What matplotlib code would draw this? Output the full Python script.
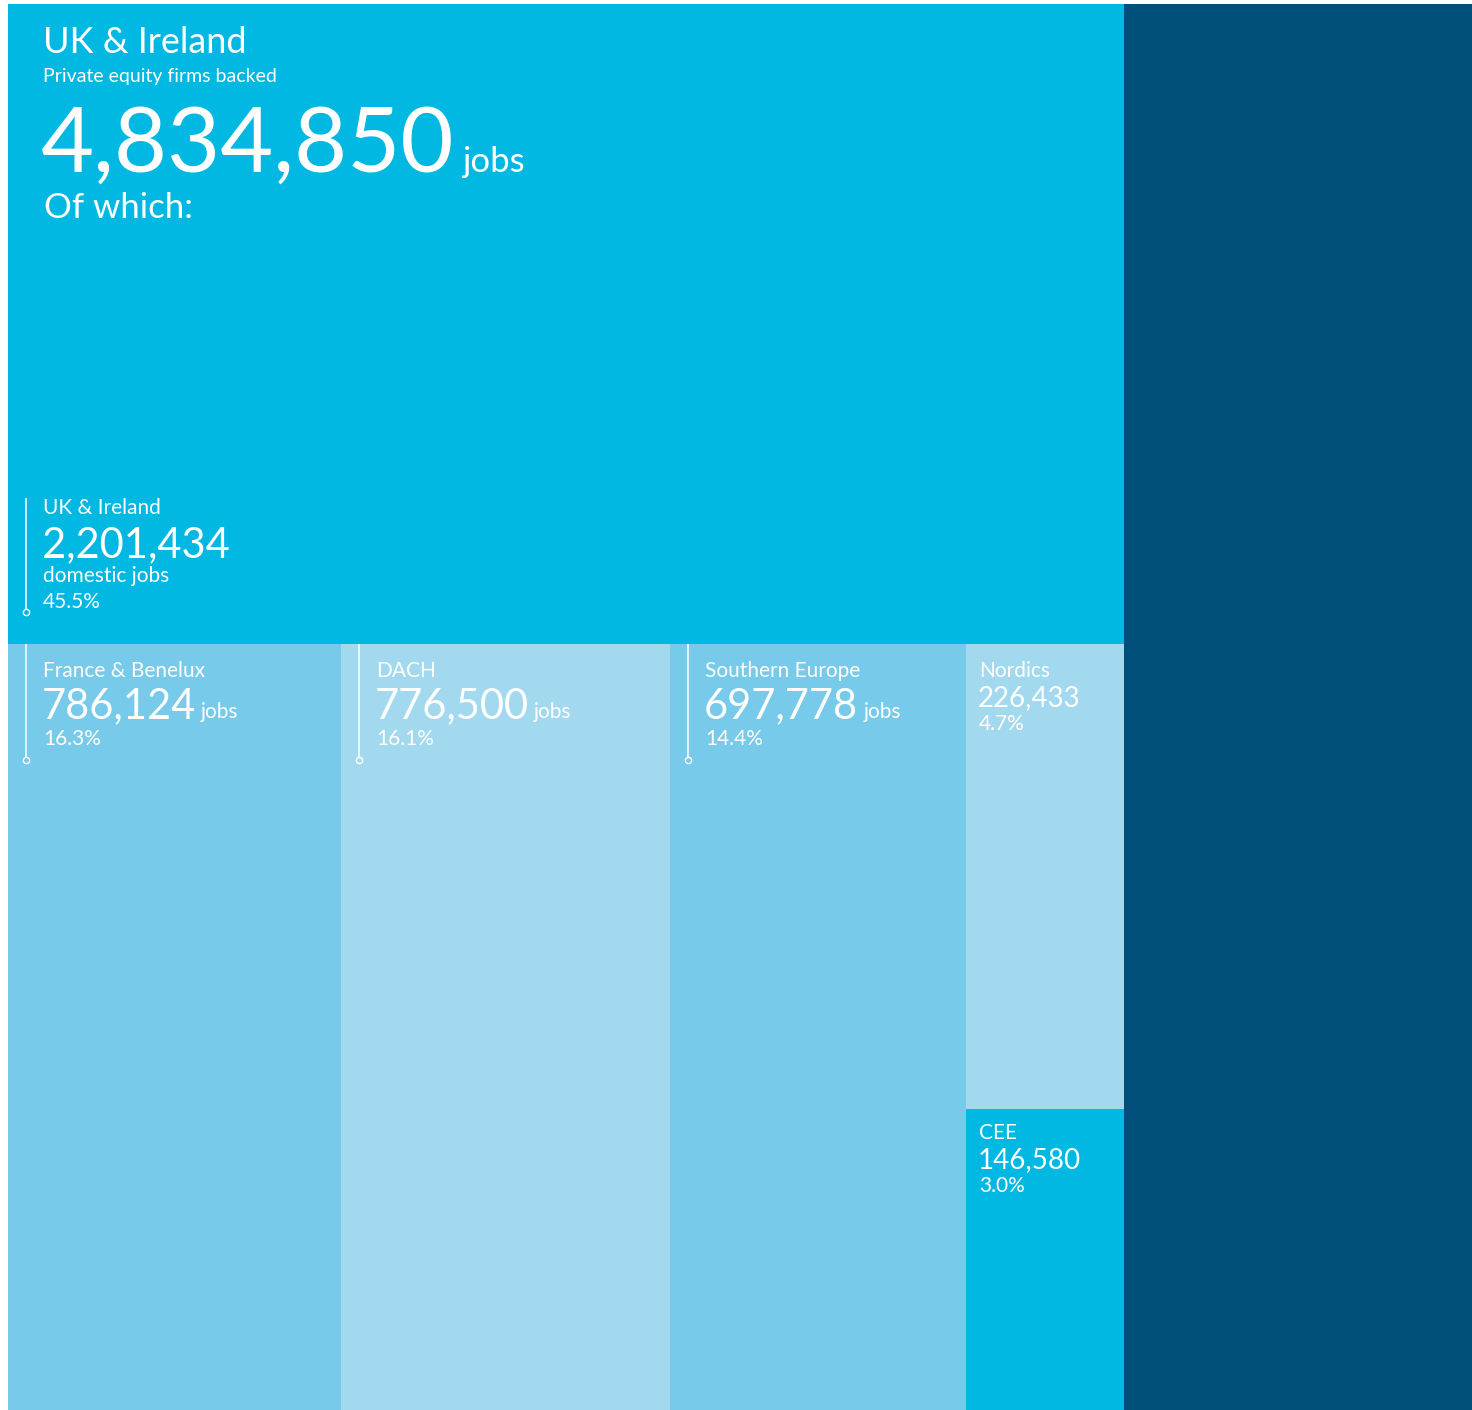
import matplotlib.pyplot as plt
from matplotlib.patches import Rectangle

# ---- data ----
regions = ["UK & Ireland", "France & Benelux", "DACH", "Southern Europe", "Nordics", "CEE"]
jobs = [2201434, 786124, 776500, 697778, 226433, 146580]
shares = [45.5, 16.3, 16.1, 14.4, 4.7, 3.0]
total_jobs = 4834850
other_jobs = 1507700   # unlabelled block on the right

# ---- styling ----
CYAN = "#00b8e2"
MID = "#77cae9"
LIGHT = "#a3d9ef"
DARK = "#004f7a"
tile_colors = [CYAN, MID, LIGHT, MID, LIGHT, CYAN]

plt.rcParams["font.family"] = ["Lato", "DejaVu Sans"]

W, H = 1464, 1406  # canvas size in pixels

fig = plt.figure(figsize=(14.72, 14.1), dpi=100)
ax = fig.add_axes([8 / 1472, 0, W / 1472, H / 1410])
ax.set_xlim(0, W)
ax.set_ylim(H, 0)
ax.axis("off")

# ---- treemap layout ----
left_w = W * total_jobs / (total_jobs + other_jobs)
top_h = H * jobs[0] / total_jobs
rects = [(0, 0, left_w, top_h)]

bottom_h = H - top_h
bottom_sum = sum(jobs[1:])
x = 0
for v in jobs[1:4]:
    w = left_w * v / bottom_sum
    rects.append((x, top_h, w, bottom_h))
    x += w
col_w = left_w - x
nord_h = bottom_h * jobs[4] / (jobs[4] + jobs[5])
rects.append((x, top_h, col_w, nord_h))
rects.append((x, top_h + nord_h, col_w, bottom_h - nord_h))

for (rx, ry, rw, rh), c in zip(rects, tile_colors):
    ax.add_patch(Rectangle((rx, ry), rw, rh, facecolor=c, edgecolor="none"))
ax.add_patch(Rectangle((left_w, 0), W - left_w, H, facecolor=DARK, edgecolor="none"))

txt = dict(color="white", va="baseline", ha="left")


def leader(x0, y_top, y_end):
    ax.plot([x0, x0], [y_top, y_end - 3], color="white", lw=1.1, solid_capstyle="butt")
    ax.plot([x0], [y_end], marker="o", ms=4.5, mfc="none", mec="white", mew=1.0)


# ---- headline ----
ax.text(35, 49, "UK & Ireland", fontsize=26, **txt)
ax.text(35, 78, "Private equity firms backed", fontsize=14, **txt)
big = ax.text(33, 168, f"{total_jobs:,}", fontsize=66, **txt)
ax.text(36, 214, "Of which:", fontsize=25, **txt)

# ---- domestic share inside top tile ----
ax.text(35, 510, regions[0], fontsize=15, **txt)
ax.text(34, 553, f"{jobs[0]:,}", fontsize=30, **txt)
ax.text(35, 578, "domestic jobs", fontsize=15, **txt)
ax.text(35, 604, f"{shares[0]}%", fontsize=15, **txt)
leader(18, 494, 608)

# ---- bottom row tiles ----
num_texts = []
for i in range(1, 4):
    rx, ry, rw, rh = rects[i]
    ax.text(rx + 35, ry + 33, regions[i], fontsize=15, **txt)
    t = ax.text(rx + 34, ry + 74, f"{jobs[i]:,}", fontsize=30, **txt)
    num_texts.append((t, ry + 74))
    ax.text(rx + 35, ry + 101, f"{shares[i]}%", fontsize=15, **txt)
    leader(rx + 18, ry, ry + 116)

for i in (4, 5):
    rx, ry, rw, rh = rects[i]
    off = 0 if i == 4 else -3
    ax.text(rx + 13, ry + 33 + off, regions[i], fontsize=15, **txt)
    ax.text(rx + 12, ry + 62 + off, f"{jobs[i]:,}", fontsize=20, **txt)
    ax.text(rx + 13, ry + 86 + off, f"{shares[i]}%", fontsize=15, **txt)

# ---- "jobs" suffixes placed after the rendered numbers ----
fig.canvas.draw()
renderer = fig.canvas.get_renderer()
inv = ax.transData.inverted()


def right_edge(t):
    bb = t.get_window_extent(renderer)
    return inv.transform((bb.x1, bb.y0))[0]


ax.text(right_edge(big) + 8, 168, "jobs", fontsize=25, **txt)
for t, yb in num_texts:
    ax.text(right_edge(t) + 5, yb, "jobs", fontsize=15, **txt)

fig.savefig("out.png", dpi=100, facecolor="white")
